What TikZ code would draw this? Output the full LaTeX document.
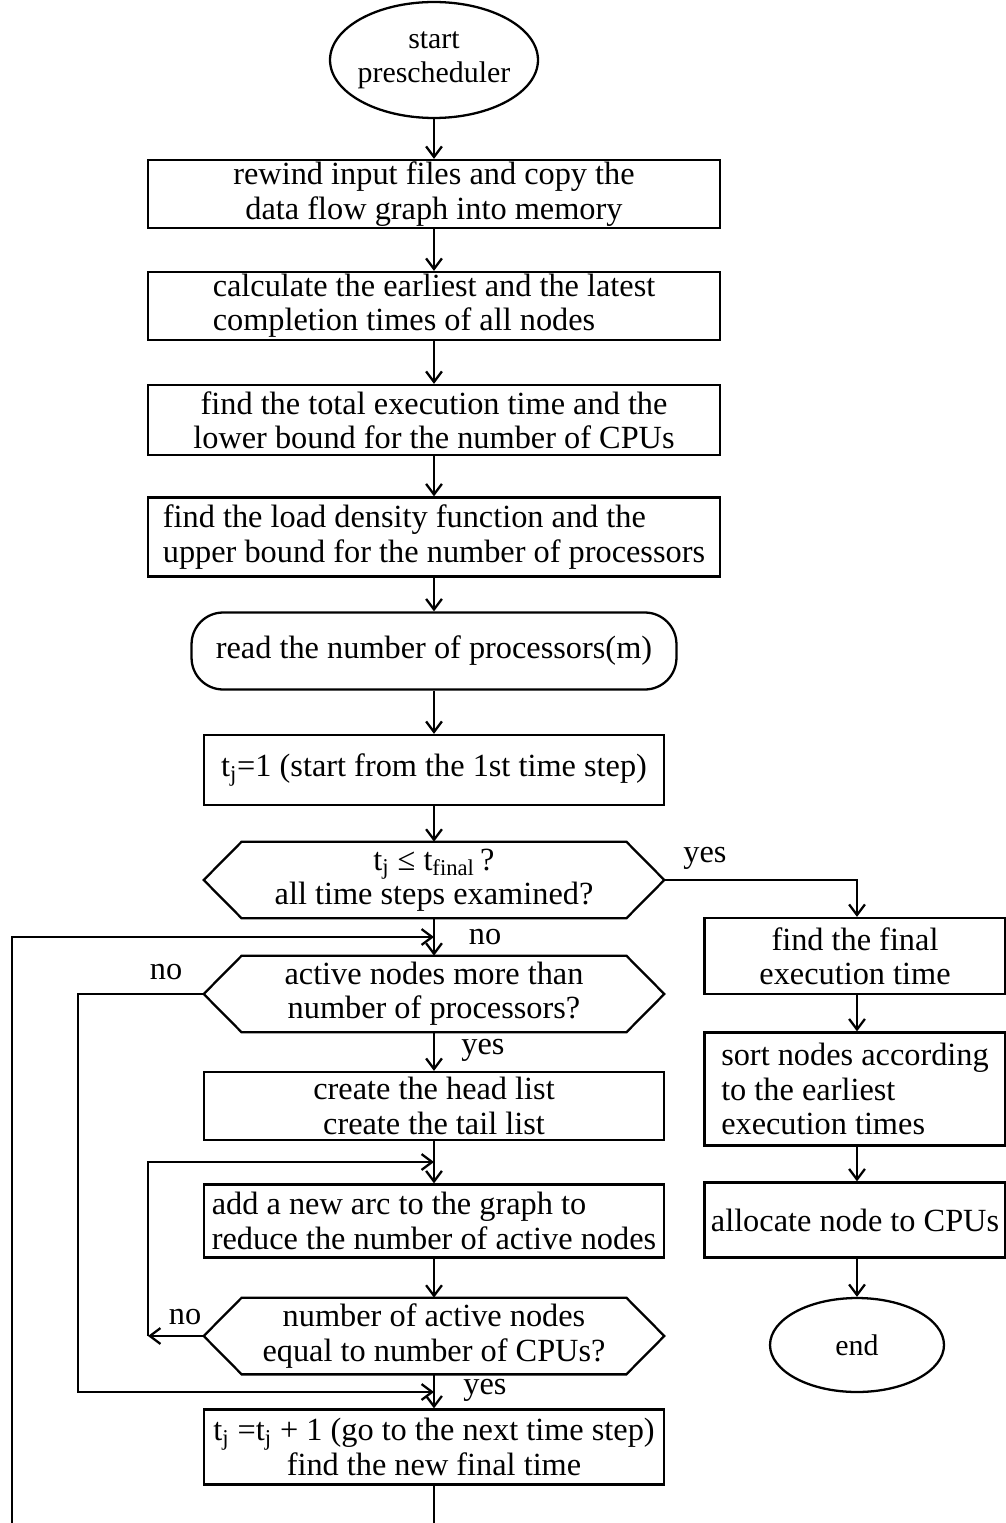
\documentclass[tikz,border=0pt]{standalone}
\usepackage{fontspec}
\setmainfont{Liberation Serif}
\usetikzlibrary{shapes.geometric,arrows.meta}
% outline of a decision node: a flat hexagon drawn on the node's bounding box
\newcommand\hexoutline[1]{%
  \draw[ln] (#1.west) -- ([xshift=0.76cm]#1.north west) -- ([xshift=-0.76cm]#1.north east)
    -- (#1.east) -- ([xshift=-0.76cm]#1.south east) -- ([xshift=0.76cm]#1.south west) -- cycle;}
\begin{document}
\begin{tikzpicture}[x=0.02cm,y=-0.02cm,
  every node/.style={font=\fontsize{18.4}{19.5}\selectfont, inner sep=0pt},
  small/.style={font=\fontsize{17}{19.5}\selectfont},
  ln/.style={line width=1.3pt},
  arr/.style={ln,-{Straight Barb[length=6pt,width=9pt,line width=1.3pt]}},
  box/.style={draw, ln, rectangle, align=center},
  wide/.style={box, minimum width=11.44cm},
  mid/.style={box, minimum width=9.2cm},
  side/.style={box, minimum width=6.02cm},
  hexn/.style={minimum width=9.2cm, minimum height=1.52cm, align=center}
]
\path[use as bounding box] (0,0) rectangle (1006,1523);

% main column
\node[ellipse, draw, ln, minimum width=4.16cm, minimum height=2.32cm] (start) at (434,60) {};
\node[small, align=center] (starttxt) at (start) {start\\prescheduler};
\node[wide, minimum height=1.36cm] (b1) at (434,194) {rewind input files and copy the\\data flow graph into memory};
\node[wide, minimum height=1.36cm, align=left] (b2) at (434,306) {calculate the earliest and the latest\\completion times of all nodes};
\node[wide, minimum height=1.40cm] (b3) at (434,420) {find the total execution time and the\\lower bound for the number of CPUs};
\node[wide, minimum height=1.58cm, align=left] (b4) at (434,537) {find the load density function and the\\upper bound for the number of processors};
\node[box, rounded corners=18pt, minimum width=9.7cm, minimum height=1.54cm] (rd) at (434,651) {read the number of processors(m)};
\node[mid, minimum height=1.4cm] (b6) at (434,770) {t\textsubscript{j}=1 (start from the 1st time step)};
\node[hexn] (h1) at (434,880) {t\textsubscript{j} ≤ t\textsubscript{final}\,?\\all time steps examined?};
\node[hexn] (h2) at (434,994) {active nodes more than\\number of processors?};
\node[mid, minimum height=1.36cm] (b7) at (434,1106) {create the head list\\create the tail list};
\node[mid, minimum height=1.46cm, align=left] (b8) at (434,1221) {add a new arc to the graph to\\reduce the number of active nodes};
\node[hexn] (h3) at (434,1336) {number of active nodes\\equal to number of CPUs?};
\node[mid, minimum height=1.5cm] (b9) at (434,1447) {t\textsubscript{j} =t\textsubscript{j} + 1 (go to the next time step)\\find the new final time};
\hexoutline{h1}
\hexoutline{h2}
\hexoutline{h3}

% right column
\node[side, minimum height=1.52cm] (r1) at (855,956) {find the final\\execution time};
\node[side, minimum height=2.26cm, align=left] (r2) at (855,1089) {sort nodes according\\to the earliest\\execution times};
\node[side, minimum height=1.5cm] (r3) at (855,1220) {allocate node to CPUs};
\node[ellipse, draw, ln, small, minimum width=3.48cm, minimum height=1.88cm] (end) at (857,1345) {end};

% branch labels
\node (yes1) at (705,858) {yes};
\node (no1) at (485,937) {no};
\node (no2) at (166,972) {no};
\node (yes2) at (483,1050) {yes};
\node (no3) at (185,1317) {no};
\node (yes3) at (485,1390) {yes};

% corner points of the loops
\coordinate (k1) at (78,994);
\coordinate (k2) at (434,1392);
\coordinate (k3) at (148,1336);
\coordinate (k4) at (434,1162);
\coordinate (k5) at (12,1523);
\coordinate (k6) at (434,937);
\coordinate (k7) at (434,1523);

% straight flow
\draw[arr] (start) -- (b1);
\draw[arr] (b1) -- (b2);
\draw[arr] (b2) -- (b3);
\draw[arr] (b3) -- (b4);
\draw[arr] (b4) -- (rd);
\draw[arr] (rd) -- (b6);
\draw[arr] (b6) -- (h1);
\draw[arr] (h1) -- (h2);
\draw[arr] (h2) -- (b7);
\draw[arr] (b7) -- (b8);
\draw[arr] (b8) -- (h3);
\draw[arr] (h3) -- (b9);
\draw[ln] (b9) -- (k7);

% exit branch
\draw[arr] (h1.east) -| (r1.north -| end.north);
\draw[arr] (r1.south -| end.north) -- (r2.north -| end.north);
\draw[arr] (r2.south -| end.north) -- (r3.north -| end.north);
\draw[arr] (r3.south -| end.north) -- (end);

% loops
\draw[arr] (h2.west) -- (k1) |- (k2);
\draw[arr] (h3.west) -- (k3);
\draw[arr] (k3) |- (k4);
\draw[arr] (k5) |- (k6);
\end{tikzpicture}
\end{document}
